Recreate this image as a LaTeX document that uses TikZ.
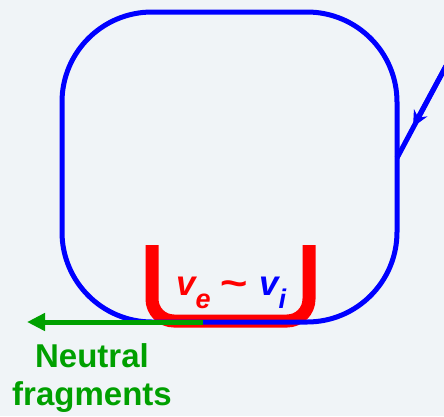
\documentclass[tikz,border=0pt]{standalone}
\usepackage{fontspec}
\setmainfont{Liberation Sans}
\usetikzlibrary{arrows.meta,positioning}

\definecolor{bgcol}{RGB}{240,244,247}
\definecolor{fraggreen}{RGB}{0,160,0}
\definecolor{wallblue}{RGB}{0,0,255}
\definecolor{sheathred}{RGB}{255,0,0}

\begin{document}
\begin{tikzpicture}[
    x=1pt, y=-1pt,
    wall/.style={draw=wallblue, line width=5pt},
    sheath/.style={draw=sheathred, line width=13pt, rounded corners=22pt},
    frag/.style={draw=fraggreen, line width=5pt},
    vel/.style={font=\bfseries\itshape\fontsize{35}{40}\selectfont, inner sep=0pt},
    lbl/.style={text=fraggreen, font=\bfseries\fontsize{33}{38}\selectfont, align=center},
  ]

  % background and page size
  \fill[bgcol] (0,0) rectangle (444,416);
  \useasboundingbox (0,0) rectangle (444,416);

  % sheath
  \draw[sheath] (152,245) -- (152,321) -- (309,321) -- (309,245);

  % chamber wall
  \draw[wall, rounded corners=90pt] (62,12) rectangle (397,322);

  % incoming line with arrow
  \coordinate (inlet) at (446,66);
  \coordinate (inmid) at (413,127);
  \coordinate (inend) at (397,158);
  \draw[wall] (inlet) -- (inend);
  \draw[wall, -{Stealth[length=16pt,width=15pt]}] (inlet) -- (inmid);

  % neutral fragments
  \coordinate (fragstart) at (203,322);
  \coordinate (fragend) at (27,322);
  \draw[frag, -{Triangle[length=18pt,width=17pt]}] (fragstart) -- (fragend);
  \node[lbl] (neutral) at (92,378) {Neutral\\fragments};

  % velocities
  \node[vel, text=sheathred, anchor=base west] (ve) at (176,295)
       {v\raisebox{-13pt}{\fontsize{27}{27}\selectfont e}};
  \node[vel, text=sheathred, anchor=base] (tld) at (233,296)
       {\scalebox{1.35}[1.1]{\textasciitilde}};
  \node[vel, text=wallblue, anchor=base west] (vi) at (259,295)
       {v\raisebox{-13pt}{\fontsize{27}{27}\selectfont i}};

\end{tikzpicture}
\end{document}
